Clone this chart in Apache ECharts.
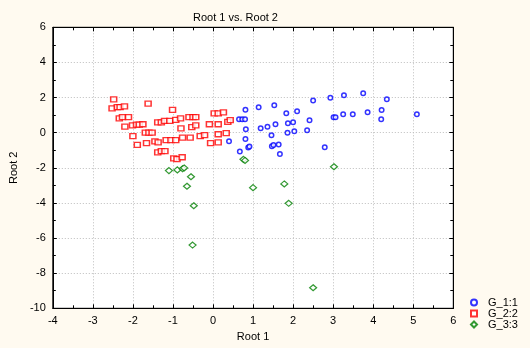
<!DOCTYPE html>
<html><head><meta charset="utf-8">
<script src="https://cdn.jsdelivr.net/npm/echarts@6/dist/echarts.min.js"></script>
<style>html,body{margin:0;padding:0;background:#FFFAF0}#c{width:530px;height:348px}</style>
</head><body><div id="c"></div><script>
const titleText = 'Root 1 vs. Root 2';
const xName = 'Root 1';
const yName = 'Root 2';
const seriesNames = ['G_1:1', 'G_2:2', 'G_3:3'];

const group1 = [
  [0.81,1.31],[1.14,1.45],[1.53,1.56],[1.83,1.10],[2.10,1.22],[2.50,1.83],[2.93,1.99],
  [3.27,2.13],[3.75,2.24],[4.34,1.90],[3.01,0.88],[3.06,0.88],[3.25,1.05],[3.49,1.05],
  [3.86,1.16],[4.21,1.29],[4.20,0.76],[5.09,1.05],[0.65,0.76],[0.73,0.76],[0.80,0.76],
  [0.82,0.19],[1.19,0.25],[1.36,0.34],[1.56,0.48],[1.87,0.54],[2.00,0.59],[2.41,0.71],
  [1.86,0.00],[2.03,0.08],[2.35,0.14],[1.46,-0.15],[0.40,-0.49],[0.81,-0.36],[0.67,-1.07],
  [0.88,-0.85],[0.91,-0.79],[1.47,-0.77],[1.51,-0.70],[1.64,-0.68],[1.67,-1.21],[2.79,-0.83]
];

const group2 = [
  [-2.48,1.90],[-2.52,1.38],[-2.39,1.45],[-2.32,1.45],[-2.21,1.50],[-1.62,1.65],[-1.01,1.30],
  [-2.34,0.82],[-2.26,0.88],[-2.11,0.88],[-2.20,0.34],[-2.01,0.42],[-1.91,0.46],[-1.84,0.46],
  [-1.75,0.48],[-1.38,0.59],[-1.29,0.59],[-1.21,0.67],[-1.08,0.67],[-0.93,0.73],[-0.81,0.82],
  [-0.60,0.88],[-0.50,0.88],[-0.43,0.88],[-0.09,0.48],[-0.80,0.24],[-0.53,0.32],[-0.43,0.42],
  [-2.00,-0.20],[-1.69,0.00],[-1.60,0.00],[-1.52,0.00],[-1.89,-0.69],[-1.66,-0.60],
  [-1.45,-0.49],[-1.37,-0.55],[-1.17,-0.43],[-1.05,-0.43],[-0.93,-0.43],[-0.76,-0.28],
  [-0.57,-0.28],[-0.32,-0.20],[-0.21,-0.14],[-0.06,-0.60],[0.13,-0.55],[-1.38,-1.12],
  [-1.29,-1.05],[-1.20,-1.05],[-0.98,-1.46],[-0.90,-1.51],[-0.77,-1.40],[0.03,1.10],
  [0.13,1.10],[0.26,1.16],[0.13,0.48],[0.37,0.61],[0.43,0.71],[0.33,-0.02],[0.13,-0.09]
];

const group3 = [
  [-1.10,-2.16],[-0.89,-2.12],[-0.76,-2.05],[-0.72,-2.01],[-0.55,-2.51],[-0.65,-3.05],
  [-0.48,-4.16],[-0.51,-6.40],[0.76,-1.52],[0.80,-1.58],[1.00,-3.13],[3.02,-1.94],
  [1.78,-2.92],[1.89,-4.02],[2.50,-8.83]
];

const xMin = -4, xMax = 6, xStep = 1;
const yMin = -10, yMax = 6, yStep = 2;

const font = '"Liberation Sans", Arial, sans-serif';
const black = '#000';

function axisBase(extra) {
  return Object.assign({
    type: 'value',
    axisLine: { show: true, onZero: false, lineStyle: { color: black, width: 1 } },
    axisTick: { show: true, inside: true, length: 4, lineStyle: { color: black } },
    minorTick: { show: true, splitNumber: 2, length: 3, lineStyle: { color: black } },
    splitLine: { show: false },
    axisLabel: { show: false }
  }, extra);
}

const labelStyle = { show: true, color: black, fontSize: 11, fontFamily: font, margin: 7 };
const gridLine = { show: true, lineStyle: { color: '#bdbdbd', type: [1, 2], width: 1 } };

const chart = echarts.init(document.getElementById('c'), null, { renderer: 'canvas' });
chart.setOption({
  backgroundColor: '#FFFAF0',
  animation: false,
  title: {
    text: titleText, left: 188, top: 7,
    textStyle: { fontSize: 11, fontWeight: 'normal', color: black, fontFamily: font }
  },
  grid: {
    left: 50.5, right: 76.7, top: 27.3, bottom: 39.7,
    show: true, backgroundColor: '#fff', borderColor: black, borderWidth: 1
  },
  legend: {
    orient: 'vertical', left: 465, top: 292,
    itemWidth: 6, itemHeight: 6, itemGap: 0,
    textStyle: { fontSize: 11, color: black, fontFamily: font, padding: [0, 0, 0, 6] },
    data: seriesNames
  },
  xAxis: [
    axisBase({ min: xMin, max: xMax, interval: xStep, position: 'bottom',
      axisLabel: labelStyle, splitLine: gridLine,
      name: xName, nameLocation: 'middle', nameGap: 23,
      nameTextStyle: { fontSize: 11, color: black, fontFamily: font } }),
    axisBase({ min: xMin, max: xMax, interval: xStep, position: 'top' })
  ],
  yAxis: [
    axisBase({ min: yMin, max: yMax, interval: yStep, position: 'left',
      axisLabel: labelStyle, splitLine: gridLine,
      name: yName, nameLocation: 'middle', nameGap: 30,
      nameTextStyle: { fontSize: 11, color: black, fontFamily: font } }),
    axisBase({ min: yMin, max: yMax, interval: yStep, position: 'right' })
  ],
  series: [
    { name: seriesNames[0], type: 'scatter', xAxisIndex: 0, yAxisIndex: 0, data: group1,
      symbol: 'circle', symbolSize: 4.5,
      itemStyle: { color: '#fff', borderColor: '#0000FF', borderWidth: 1.5 } },
    { name: seriesNames[1], type: 'scatter', xAxisIndex: 0, yAxisIndex: 0, data: group2,
      symbol: 'rect', symbolSize: [6, 5],
      itemStyle: { color: '#fff', borderColor: '#FF0000', borderWidth: 1.4 } },
    { name: seriesNames[2], type: 'scatter', xAxisIndex: 0, yAxisIndex: 0, data: group3,
      symbol: 'diamond', symbolSize: [7, 6],
      itemStyle: { color: '#fff', borderColor: '#008000', borderWidth: 1.2 } }
  ]
});
</script></body></html>
